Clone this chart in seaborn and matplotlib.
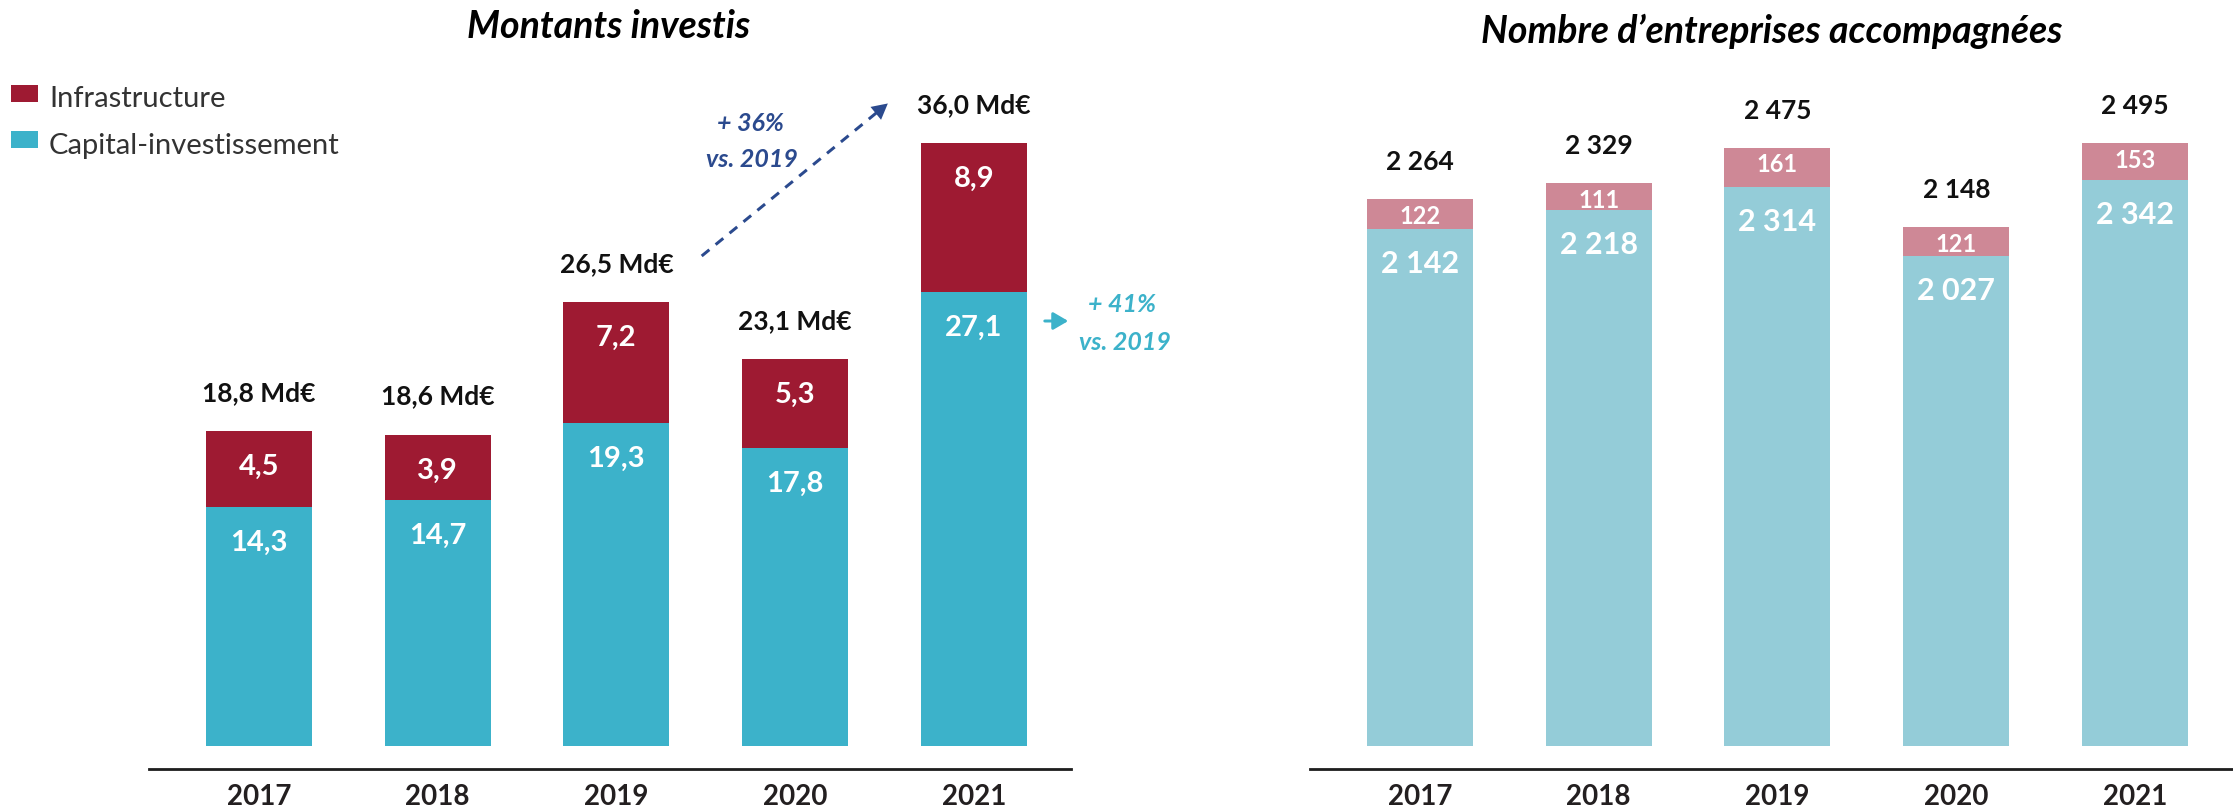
import numpy as np
import pandas as pd
import matplotlib
matplotlib.use("Agg")
import matplotlib.pyplot as plt
import seaborn as sns
from matplotlib.patches import Rectangle, FancyArrowPatch
from matplotlib.lines import Line2D

# ---------------- data ----------------
years = ["2017", "2018", "2019", "2020", "2021"]
montants_infra = [4.5, 3.9, 7.2, 5.3, 8.9]
montants_capital = [14.3, 14.7, 19.3, 17.8, 27.1]
montants_total = [18.8, 18.6, 26.5, 23.1, 36.0]
entreprises_infra = [122, 111, 161, 121, 153]
entreprises_capital = [2142, 2218, 2314, 2027, 2342]
entreprises_total = [2264, 2329, 2475, 2148, 2495]

legend_labels = ["Infrastructure", "Capital-investissement"]
title_left = "Montants investis"
title_right = "Nombre d\u2019entreprises accompagnées"

# ---------------- style ----------------
RED = "#9E1A32"
TEAL = "#3CB2CA"
PINK = "#CE8896"
LIGHTBLUE = "#94CCD8"
NAVY = "#2B4A8E"
DARK = "#1E1E1E"

W, H = 2233, 809
sns.set_theme(style="white")
plt.rcParams["font.family"] = ["Lato", "DejaVu Sans"]

fig = plt.figure(figsize=(W / 100, H / 100), dpi=100)


def fx(x):
    return x / W


def fy(y):
    return 1 - y / H


def px2pt(p):
    return p * 0.72


axis_y = 769.3
axL = fig.add_axes([fx(149), fy(axis_y), (1071 - 149) / W, axis_y / H])
axR = fig.add_axes([fx(1310), fy(axis_y), (2233 - 1310) / W, axis_y / H])


def fr_dec(v):
    return f"{v:.1f}".replace(".", ",")


def fr_int(v):
    return f"{v:,}".replace(",", " ")


def stacked(ax, lower, upper, c_low, c_up):
    totals = [a + b for a, b in zip(lower, upper)]
    sns.barplot(x=years, y=totals, color=c_up, saturation=1, width=0.593,
                errorbar=None, linewidth=0, ax=ax)
    sns.barplot(x=years, y=lower, color=c_low, saturation=1, width=0.593,
                errorbar=None, linewidth=0, ax=ax)


stacked(axL, montants_capital, montants_infra, TEAL, RED)
stacked(axR, entreprises_capital, entreprises_infra, LIGHTBLUE, PINK)

axL.set_xlim(-0.615, 4.543)
axL.set_ylim(-1.36, 44.51)
axR.set_xlim(-0.615, 4.548)
axR.set_ylim(-94.3, 3087)

for ax in (axL, axR):
    for s in ("left", "top", "right"):
        ax.spines[s].set_visible(False)
    ax.spines["bottom"].set_linewidth(px2pt(2.8))
    ax.spines["bottom"].set_color(DARK)
    ax.set_yticks([])
    ax.set_xlabel("")
    ax.set_ylabel("")
    ax.tick_params(axis="x", length=0, pad=10.5, labelsize=20, labelcolor="#231F20")
    for lbl in ax.get_xticklabels():
        lbl.set_fontweight("bold")
    ax.patch.set_alpha(0)

# ---- left labels ----
for i in range(len(years)):
    tot = montants_capital[i] + montants_infra[i]
    axL.annotate(fr_dec(montants_total[i]) + " Md€", xy=(i, tot), xytext=(0, px2pt(30)),
                 textcoords="offset points", ha="center", va="baseline",
                 fontsize=19, fontweight="bold", color="#111111")
    axL.annotate(fr_dec(montants_infra[i]), xy=(i, tot), xytext=(0, -px2pt(44)),
                 textcoords="offset points", ha="center", va="baseline",
                 fontsize=21, fontweight="bold", color="white")
    axL.annotate(fr_dec(montants_capital[i]), xy=(i, montants_capital[i]), xytext=(0, -px2pt(44)),
                 textcoords="offset points", ha="center", va="baseline",
                 fontsize=21, fontweight="bold", color="white")

# ---- right labels ----
for i in range(len(years)):
    tot = entreprises_capital[i] + entreprises_infra[i]
    axR.annotate(fr_int(entreprises_total[i]), xy=(i, tot), xytext=(0, px2pt(29)),
                 textcoords="offset points", ha="center", va="baseline",
                 fontsize=19, fontweight="bold", color="#111111")
    axR.annotate(fr_int(entreprises_infra[i]), xy=(i, tot), xytext=(0, -px2pt(24.5)),
                 textcoords="offset points", ha="center", va="baseline",
                 fontsize=17, fontweight="bold", color="white")
    axR.annotate(fr_int(entreprises_capital[i]), xy=(i, entreprises_capital[i]), xytext=(0, -px2pt(44)),
                 textcoords="offset points", ha="center", va="baseline",
                 fontsize=22, fontweight="bold", color="white")

# ---- titles ----
fig.text(fx(609), fy(38.3), title_left, ha="center", va="baseline",
         fontsize=27, fontweight="bold", style="italic", color="#000000")
fig.text(fx(1772), fy(43), title_right, ha="center", va="baseline",
         fontsize=27, fontweight="bold", style="italic", color="#000000")

# ---- legend ----
for (top, bot), col, lab, base in [((85, 102), RED, legend_labels[0], 107),
                                   ((131, 148), TEAL, legend_labels[1], 154)]:
    fig.add_artist(Rectangle((fx(11), fy(bot)), 27 / W, (bot - top) / H,
                             transform=fig.transFigure, facecolor=col, edgecolor="none"))
    fig.text(fx(49), fy(base), lab, ha="left", va="baseline", fontsize=21, color="#333333")

# ---- growth annotations ----
x0, y0 = 701.7, 256.0
x1, y1 = 890.0, 101.7
d = np.hypot(x1 - x0, y1 - y0)
ux, uy = (x1 - x0) / d, (y1 - y0) / d
xe, ye = x1 - 13 * ux, y1 - 13 * uy
fig.add_artist(Line2D([fx(x0), fx(xe)], [fy(y0), fy(ye)], transform=fig.transFigure,
                      color=NAVY, linewidth=px2pt(3), linestyle=(0, (3.3, 2.7))))
fig.add_artist(FancyArrowPatch((fx(x1 - 18 * ux), fy(y1 - 18 * uy)), (fx(x1), fy(y1)),
                               transform=fig.transFigure,
                               arrowstyle="-|>,head_length=0.75,head_width=0.4",
                               mutation_scale=15, color=NAVY, linewidth=0))
fig.text(fx(750), fy(131), "+ 36%", ha="center", va="baseline", fontsize=18,
         fontweight="bold", style="italic", color=NAVY)
fig.text(fx(752), fy(167), "vs. 2019", ha="center", va="baseline", fontsize=18,
         fontweight="bold", style="italic", color=NAVY)

fig.add_artist(FancyArrowPatch((fx(1042), fy(321)), (fx(1071), fy(321)),
                               transform=fig.transFigure,
                               arrowstyle="-|>,head_length=0.6,head_width=0.35",
                               mutation_scale=15, color=TEAL, linewidth=px2pt(3)))
fig.text(fx(1122), fy(312), "+ 41%", ha="center", va="baseline", fontsize=18,
         fontweight="bold", style="italic", color=TEAL)
fig.text(fx(1125), fy(350), "vs. 2019", ha="center", va="baseline", fontsize=18,
         fontweight="bold", style="italic", color=TEAL)

fig.savefig("out.png", dpi=100, facecolor="white")
